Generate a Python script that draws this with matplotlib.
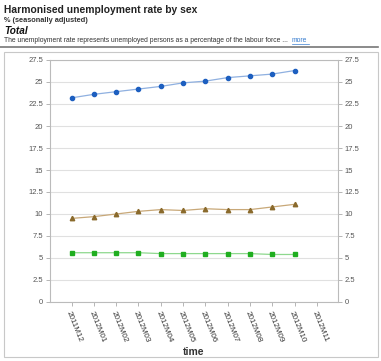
import matplotlib.pyplot as plt
from matplotlib.patches import Rectangle
from matplotlib.lines import Line2D

periods = ["2011M12", "2012M01", "2012M02", "2012M03", "2012M04", "2012M05",
           "2012M06", "2012M07", "2012M08", "2012M09", "2012M10", "2012M11"]
# values for the first 11 months; 2012M11 has no data
series_a = [23.2, 23.6, 23.9, 24.2, 24.5, 24.9, 25.1, 25.5, 25.7, 25.9, 26.3]
series_b = [9.5, 9.7, 10.0, 10.3, 10.5, 10.4, 10.6, 10.5, 10.5, 10.8, 11.1]
series_c = [5.6, 5.6, 5.6, 5.6, 5.5, 5.5, 5.5, 5.5, 5.5, 5.4, 5.4]
yticks = [0, 2.5, 5, 7.5, 10, 12.5, 15, 17.5, 20, 22.5, 25, 27.5]

plt.rcParams["font.family"] = "Liberation Sans"

fig = plt.figure(figsize=(3.81, 3.61), dpi=100)
W, H = 381, 361

def px(x, y):
    return x / W, 1 - y / H

# header texts
fig.text(*px(4, 10), "Harmonised unemployment rate by sex", fontsize=7.4,
         fontweight="bold", color="#222222", va="center")
fig.text(*px(4, 21), "% (seasonally adjusted)", fontsize=5.3,
         fontweight="bold", color="#333333", va="center")
fig.text(*px(4, 31), "Total", fontsize=7.2, fontweight="bold",
         style="italic", color="#111111", va="center")
fig.text(*px(4, 41), "The unemployment rate represents unemployed persons as a percentage of the labour force ...",
         fontsize=4.9, color="#333333", va="center")
fig.text(*px(292, 41), "more", fontsize=4.9, color="#3a7fd0", va="center")
fig.add_artist(Line2D([292 / W, 309 / W], [1 - 44 / H, 1 - 44 / H],
                      color="#3a7fd0", lw=0.5))
fig.add_artist(Line2D([0, 378 / W], [1 - 47 / H, 1 - 47 / H],
                      color="#777777", lw=1.2))
# chart frame
fig.add_artist(Rectangle(px(4, 357), 374 / W, 305 / H, fill=False,
                         edgecolor="#c8c8c8", lw=0.8))

left, right, top, bottom = 50, 338, 60, 302
ax = fig.add_axes([left / W, 1 - bottom / H, (right - left) / W, (bottom - top) / H])

x = list(range(len(periods)))
n = len(series_a)
ax.plot(x[:n], series_a, color="#8fb0e0", lw=0.9, marker="o", markersize=3.0,
        markerfacecolor="#1d5fc0", markeredgecolor="#1d5fc0", zorder=3)
ax.plot(x[:n], series_b, color="#c8a878", lw=0.9, marker="^", markersize=3.2,
        markerfacecolor="#8a6a2c", markeredgecolor="#8a6a2c", zorder=3)
ax.plot(x[:n], series_c, color="#8ed88e", lw=0.9, marker="s", markersize=2.8,
        markerfacecolor="#1fae1f", markeredgecolor="#1fae1f", zorder=3)

ax.set_xlim(-0.97, 11.95)
ax.set_ylim(0, 27.5)
ax.set_yticks(yticks)
ax.set_yticklabels([f"{v:g}" for v in yticks])
ax.yaxis.grid(True, color="#e0e0e0", lw=0.8)
ax.set_axisbelow(True)
ax.tick_params(axis="y", which="both", labelsize=5.5, labelcolor="#555555",
               color="#aaaaaa", length=3, width=0.6, left=True, right=True,
               labelleft=True, labelright=True, pad=2)
ax.set_xticks(x)
ax.set_xticklabels(periods, rotation=-68, ha="left", va="top",
                   rotation_mode="anchor", fontsize=5.8, color="#333333")
ax.tick_params(axis="x", color="#aaaaaa", length=3, width=0.6, pad=3)
for s in ax.spines.values():
    s.set_color("#bbbbbb")
    s.set_linewidth(0.8)
ax.set_xlabel("time", fontsize=7.5, fontweight="bold", color="#333333", labelpad=2)

fig.savefig("out.png", dpi=100)
